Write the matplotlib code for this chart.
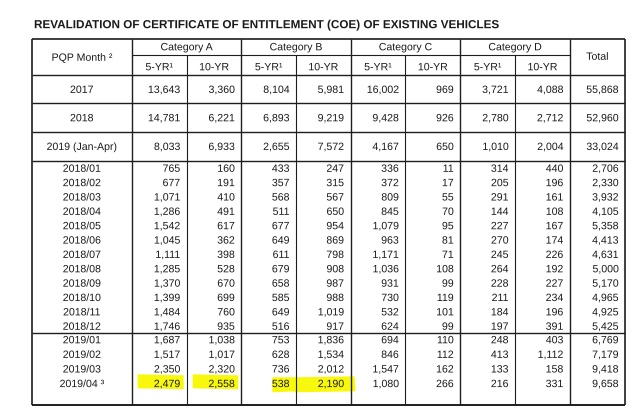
import matplotlib
matplotlib.use("Agg")
import matplotlib.pyplot as plt
from matplotlib.patches import Polygon
from matplotlib import patheffects

# ---------------- data ----------------
title = "REVALIDATION OF CERTIFICATE OF ENTITLEMENT (COE) OF EXISTING VEHICLES"
categories = ["Category A", "Category B", "Category C", "Category D"]
sub_headers = ["5-YR\u00b9", "10-YR"]
first_header = "PQP Month \u00b2"
total_header = "Total"

annual_periods = ["2017", "2018", "2019 (Jan-Apr)"]
cat_a_5yr_annual = [13643, 14781, 8033]
cat_a_10yr_annual = [3360, 6221, 6933]
cat_b_5yr_annual = [8104, 6893, 2655]
cat_b_10yr_annual = [5981, 9219, 7572]
cat_c_5yr_annual = [16002, 9428, 4167]
cat_c_10yr_annual = [969, 926, 650]
cat_d_5yr_annual = [3721, 2780, 1010]
cat_d_10yr_annual = [4088, 2712, 2004]
total_annual = [55868, 52960, 33024]

months_2018 = ["2018/01", "2018/02", "2018/03", "2018/04", "2018/05", "2018/06",
               "2018/07", "2018/08", "2018/09", "2018/10", "2018/11", "2018/12"]
months_2019 = ["2019/01", "2019/02", "2019/03", "2019/04 \u00b3"]
cat_a_5yr = [765, 677, 1071, 1286, 1542, 1045, 1111, 1285, 1370, 1399, 1484, 1746,
             1687, 1517, 2350, 2479]
cat_a_10yr = [160, 191, 410, 491, 617, 362, 398, 528, 670, 699, 760, 935,
              1038, 1017, 2320, 2558]
cat_b_5yr = [433, 357, 568, 511, 677, 649, 611, 679, 658, 585, 649, 516,
             753, 628, 736, 538]
cat_b_10yr = [247, 315, 567, 650, 954, 869, 798, 908, 987, 988, 1019, 917,
              1836, 1534, 2012, 2190]
cat_c_5yr = [336, 372, 809, 845, 1079, 963, 1171, 1036, 931, 730, 532, 624,
             694, 846, 1547, 1080]
cat_c_10yr = [11, 17, 55, 70, 95, 81, 71, 108, 99, 119, 101, 99,
              110, 112, 162, 266]
cat_d_5yr = [314, 205, 291, 144, 227, 270, 245, 264, 228, 211, 184, 197,
             248, 413, 133, 216]
cat_d_10yr = [440, 196, 161, 108, 167, 174, 226, 192, 227, 234, 196, 391,
              403, 1112, 158, 331]
total_monthly = [2706, 2330, 3932, 4105, 5358, 4413, 4631, 5000, 5170, 4965, 4925, 5425,
                 6769, 7179, 9418, 9658]

highlight_row = "2019/04 \u00b3"
highlight_cols = [0, 1, 2, 3]

# ---------------- layout (pixel coordinates) ----------------
W, H = 640, 413
fig = plt.figure(figsize=(W / 100, H / 100), dpi=100)
ax = fig.add_axes([0, 0, 1, 1])
ax.set_xlim(0, W)
ax.set_ylim(H, 0)
ax.axis("off")

FONT = "Liberation Sans"
FS = 7.6
LINE_C = "#1e1e1e"
TXT_C = "#1a1a1a"
PE = [patheffects.Normal()]   # render text as paths -> consistent baselines

col_x = [31.7, 131.7, 186.7, 241.3, 296.0, 350.5, 405.3, 460.2, 515.0, 569.8, 625.0]
top, cat_div, head_bot = 38.5, 55.0, 75.0
annual_bot = [103.3, 131.7, 160.7]
split_y = 333.3
bottom = 405.0

def hline(y, x0, x1, lw=0.8):
    ax.plot([x0, x1], [y, y], color=LINE_C, lw=lw, solid_capstyle="butt")

def vline(x, y0, y1, lw=0.8):
    ax.plot([x, x], [y0, y1], color=LINE_C, lw=lw, solid_capstyle="butt")

def txt(x, y, s, ha="center", fs=FS, weight="normal"):
    # y is the visual centre of cap height
    base = y + fs * 1.389 * 0.716 / 2
    ax.text(x, base, s, ha=ha, va="baseline", fontsize=fs, family=FONT,
            color=TXT_C, fontweight=weight, path_effects=PE)

# title
txt(34, 24, title, ha="left", fs=8.42, weight="bold")

# grid lines
hline(top, col_x[0], col_x[-1], lw=1.2)
hline(cat_div, col_x[1], col_x[9])
hline(head_bot, col_x[0], col_x[-1], lw=1.0)
for y in annual_bot:
    hline(y, col_x[0], col_x[-1], lw=1.0)
hline(split_y, col_x[0], col_x[-1], lw=1.0)
hline(bottom, col_x[0], col_x[-1], lw=1.4)

vline(col_x[0], top, bottom, lw=1.2)
vline(col_x[-1], top, bottom, lw=1.2)
for i in range(1, 10):
    if i % 2 == 1:
        vline(col_x[i], top, bottom, lw=1.0)
    else:
        vline(col_x[i], cat_div, bottom, lw=0.8)

# header
txt((col_x[0] + col_x[1]) / 2, 57, first_header)
txt((col_x[9] + col_x[10]) / 2, 56, total_header)
for k, cat in enumerate(categories):
    x0, x1, x2 = col_x[1 + 2 * k], col_x[2 + 2 * k], col_x[3 + 2 * k]
    txt((x0 + x2) / 2, 46.5, cat)
    txt((x0 + x1) / 2, 66.5, sub_headers[0])
    txt((x1 + x2) / 2, 66.5, sub_headers[1])

def fmt(v):
    return f"{v:,}"

annual_cols = [cat_a_5yr_annual, cat_a_10yr_annual, cat_b_5yr_annual, cat_b_10yr_annual,
               cat_c_5yr_annual, cat_c_10yr_annual, cat_d_5yr_annual, cat_d_10yr_annual,
               total_annual]
monthly_cols = [cat_a_5yr, cat_a_10yr, cat_b_5yr, cat_b_10yr, cat_c_5yr, cat_c_10yr,
                cat_d_5yr, cat_d_10yr, total_monthly]

# annual rows
prev = head_bot
for r, period in enumerate(annual_periods):
    yc = (prev + annual_bot[r]) / 2
    txt((col_x[0] + col_x[1]) / 2, yc, period)
    for c, col in enumerate(annual_cols):
        txt(col_x[c + 2] - 6.5, yc, fmt(col[r]), ha="right")
    prev = annual_bot[r]

# monthly rows
labels = months_2018 + months_2019
ys = [168.0 + 14.36 * i for i in range(len(months_2018))] + \
     [339.5 + 14.6 * j for j in range(len(months_2019))]

# highlighter strokes (behind text)
hi_r = labels.index(highlight_row)
for c in highlight_cols:
    x0, x1 = col_x[c + 1], col_x[c + 2]
    yc = ys[hi_r]
    if c < 2:
        pts = [(x0 + 6, yc - 9), (x1 - 3, yc - 8), (x1 - 3, yc + 6), (x0 + 6, yc + 5)]
    elif c == 2:
        pts = [(x0 + 31, yc - 6), (x1 + 1, yc - 6), (x1 + 1, yc + 8), (x0 + 31, yc + 9)]
    else:
        pts = [(x0 - 1, yc - 6), (x1 + 4, yc - 7), (x1 + 5, yc + 8), (x0 - 1, yc + 9)]
    ax.add_patch(Polygon(pts, closed=True, facecolor="#f8f80c", edgecolor="none",
                         zorder=0.5))

for r, lab in enumerate(labels):
    yc = ys[r]
    txt((col_x[0] + col_x[1]) / 2, yc, lab)
    for c, col in enumerate(monthly_cols):
        txt(col_x[c + 2] - 6.5, yc, fmt(col[r]), ha="right")

fig.savefig("out.png", dpi=100, facecolor="white")
